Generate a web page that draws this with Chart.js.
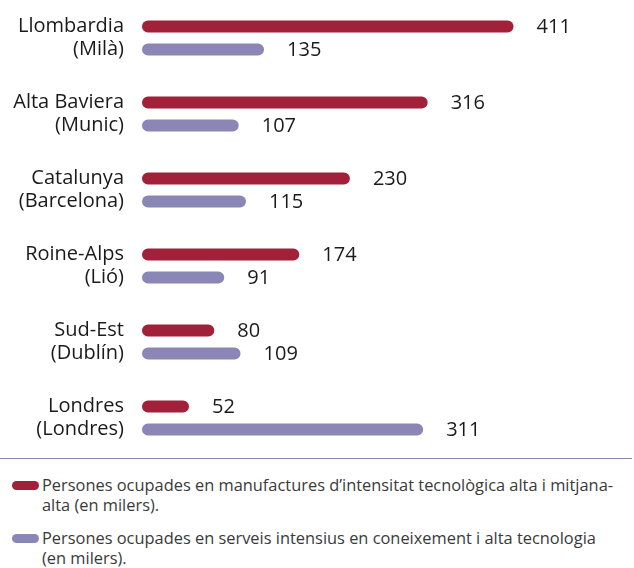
<!DOCTYPE html>
<html>
<head>
<meta charset="utf-8">
<script src="https://cdn.jsdelivr.net/npm/chart.js@4.4.1/dist/chart.umd.min.js"></script>
<style>
  body { margin: 0; background: #fff; font-family: "Open Sans", sans-serif; }
  #wrap { width: 634px; height: 456px; position: relative; }
  .sep { width: 632px; border-top: 1px solid #8a86b6; margin-top: 2px; }
  .legend { padding: 16px 0 0 12px; }
  .item { display: flex; align-items: flex-start; margin-bottom: 13px; }
  .mark { width: 27px; height: 9px; border-radius: 5px; margin: 6px 3px 0 0; flex: none; }
  .txt { font-size: 16.4px; line-height: 20px; color: #3a3a3a; width: 576px; }
</style>
</head>
<body>
<div id="wrap"><canvas id="grafic"></canvas></div>
<div class="sep"></div>
<div class="legend" id="llegenda"></div>
<script>
// regions i ciutats
const regions = [
  ["Llombardia", "(Milà)"],
  ["Alta Baviera", "(Munic)"],
  ["Catalunya", "(Barcelona)"],
  ["Roine-Alps", "(Lió)"],
  ["Sud-Est", "(Dublín)"],
  ["Londres", "(Londres)"]
];

const manufactures = [411, 316, 230, 174, 80, 52];
const serveis = [135, 107, 115, 91, 109, 311];

const nomManufactures = "Persones ocupades en manufactures d’intensitat tecnològica alta i mitjana-alta (en milers).";
const nomServeis = "Persones ocupades en serveis intensius en coneixement i alta tecnologia (en milers).";

const vermell = "#a02139";
const lila = "#8a86b6";

// etiquetes de valor al final de cada barra
const etiquetesValor = {
  id: "etiquetesValor",
  afterDatasetsDraw(chart) {
    const ctx = chart.ctx;
    ctx.save();
    ctx.font = "20px 'Open Sans'";
    ctx.fillStyle = "#1a1a1a";
    ctx.textBaseline = "middle";
    chart.data.datasets.forEach((ds, i) => {
      chart.getDatasetMeta(i).data.forEach((bar, j) => {
        ctx.fillText(ds.data[j], bar.x + 23, bar.y + 1);
      });
    });
    ctx.restore();
  }
};

const ctx = document.getElementById("grafic").getContext("2d");
new Chart(ctx, {
  type: "bar",
  data: {
    labels: regions,
    datasets: [{
      label: nomManufactures,
      data: manufactures,
      backgroundColor: vermell,
      borderRadius: 6,
      borderSkipped: false,
      barPercentage: 0.52,
      categoryPercentage: 0.605
    }, {
      label: nomServeis,
      data: serveis,
      backgroundColor: lila,
      borderRadius: 6,
      borderSkipped: false,
      barPercentage: 0.52,
      categoryPercentage: 0.605
    }]
  },
  options: {
    indexAxis: "y",
    responsive: true,
    maintainAspectRatio: false,
    animation: false,
    layout: { padding: { top: 0, bottom: 0, left: 0, right: 40 } },
    plugins: {
      legend: { display: false },
      tooltip: { enabled: false }
    },
    scales: {
      x: { display: false, min: 0, max: 500 },
      y: {
        grid: { display: false, drawTicks: false },
        border: { display: false },
        afterFit: (scale) => {
          scale.width = 142;
          scale.paddingTop = 0;
          scale.paddingBottom = 0;
        },
        ticks: {
          padding: 18,
          color: "#1a1a1a",
          font: { family: "Open Sans", size: 20, lineHeight: 1.15 }
        }
      }
    }
  },
  plugins: [etiquetesValor]
});

// llegenda en HTML perquè el text s'ha de partir en línies
const llegenda = document.getElementById("llegenda");
[[vermell, nomManufactures], [lila, nomServeis]].forEach(([color, text]) => {
  const item = document.createElement("div");
  item.className = "item";
  item.innerHTML = `<span class="mark" style="background:${color}"></span><span class="txt">${text}</span>`;
  llegenda.appendChild(item);
});
</script>
</body>
</html>
